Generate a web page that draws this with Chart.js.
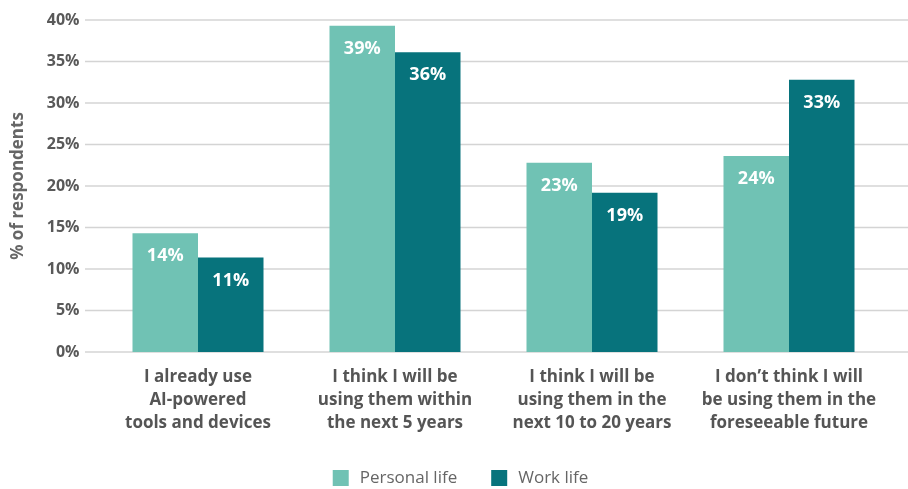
<!DOCTYPE html>
<html><head><meta charset="utf-8">
<script src="https://cdn.jsdelivr.net/npm/chart.js@4"></script>
<style>html,body{margin:0;padding:0;background:#fff}#w{width:908px;height:489px}
.f{font-family:'Open Sans';position:absolute;left:-999px;top:0}</style>
</head><body><span class="f" style="font-weight:700">a</span><span class="f">a</span>
<div id="w"><canvas id="c"></canvas></div>
<script>
const categories = [
  ["I already use","AI-powered","tools and devices"],
  ["I think I will be","using them within","the next 5 years"],
  ["I think I will be","using them in the","next 10 to 20 years"],
  ["I don\u2019t think I will","be using them in the","foreseeable future"]
];
const personalLife = [14.3, 39.3, 22.8, 23.6];
const workLife = [11.4, 36.1, 19.2, 32.8];
const yTicks = [0,5,10,15,20,25,30,35,40];
const seriesNames = ["Personal life","Work life"];
const colors = ['#70c2b4','#07737c'];

const FF = "'Open Sans',sans-serif";

const gridPlugin = {
  id:'grid',
  beforeDatasetsDraw(chart){
    const {ctx} = chart; const y = chart.scales.y;
    ctx.save(); ctx.strokeStyle='#d4d4d4'; ctx.lineWidth=1.5;
    yTicks.forEach(v=>{const py=y.getPixelForValue(v);
      ctx.beginPath(); ctx.moveTo(85,py); ctx.lineTo(908,py); ctx.stroke();});
    ctx.restore();
  }
};
const labelPlugin = {
  id:'vals',
  afterDatasetsDraw(chart){
    const {ctx} = chart;
    ctx.save(); ctx.fillStyle='#fff'; ctx.font="bold 18px "+FF;
    ctx.textAlign='center'; ctx.textBaseline='middle';
    chart.data.datasets.forEach((ds,i)=>{
      chart.getDatasetMeta(i).data.forEach((bar,j)=>{
        ctx.fillText(Math.round(ds.data[j])+'%', bar.x, bar.y+23);
      });
    });
    ctx.restore();
  }
};
const legendPlugin = {
  id:'leg',
  afterDraw(chart){
    const {ctx} = chart;
    ctx.save(); ctx.font="17px "+FF; ctx.textBaseline='middle'; ctx.textAlign='left';
    const cy = 478;
    const gapBox = 11, gapItem = 34, box = 16;
    const widths = seriesNames.map(n=>ctx.measureText(n).width);
    const total = widths.reduce((a,w)=>a+box+gapBox+w,0)+gapItem*(seriesNames.length-1);
    let x = 460.5 - total/2;
    seriesNames.forEach((n,i)=>{
      ctx.fillStyle=colors[i]; ctx.fillRect(x, cy-8, box, box);
      ctx.fillStyle='#666'; ctx.fillText(n, x+box+gapBox, cy+0.5);
      x += box+gapBox+widths[i]+gapItem;
    });
    ctx.restore();
  }
};

function make(){
new Chart(document.getElementById('c'),{
  type:'bar',
  data:{labels:categories,datasets:[
    {label:seriesNames[0],data:personalLife,backgroundColor:colors[0]},
    {label:seriesNames[1],data:workLife,backgroundColor:colors[1]}
  ]},
  options:{
    responsive:true,maintainAspectRatio:false,animation:false,
    layout:{padding:{top:0,right:20.5,bottom:48,left:0}},
    datasets:{bar:{categoryPercentage:0.665,barPercentage:1}},
    plugins:{tooltip:{enabled:false},legend:{display:false}},
    scales:{
      x:{grid:{display:false},border:{display:false},
        ticks:{color:'#555',padding:6,maxRotation:0,autoSkip:false,
          font:{family:FF,size:17,weight:'bold',lineHeight:1.353}}},
      y:{min:0,max:40,grid:{display:false},border:{display:false},
        afterFit(s){s.width=99.5;},
        afterBuildTicks(s){s.ticks=yTicks.map(v=>({value:v}));},
        ticks:{padding:12,color:'#595959',callback:v=>v+'%',
          font:{family:FF,size:16,weight:'bold',lineHeight:1.0}},
        title:{display:true,text:'% of respondents',color:'#666',padding:{top:8,bottom:0},
          font:{family:FF,size:17,weight:'bold'}}}
    }
  },
  plugins:[gridPlugin,labelPlugin,legendPlugin]
});
}
Promise.all([document.fonts.load("bold 16px 'Open Sans'"),document.fonts.load("17px 'Open Sans'")]).then(make,make);
</script></body></html>
